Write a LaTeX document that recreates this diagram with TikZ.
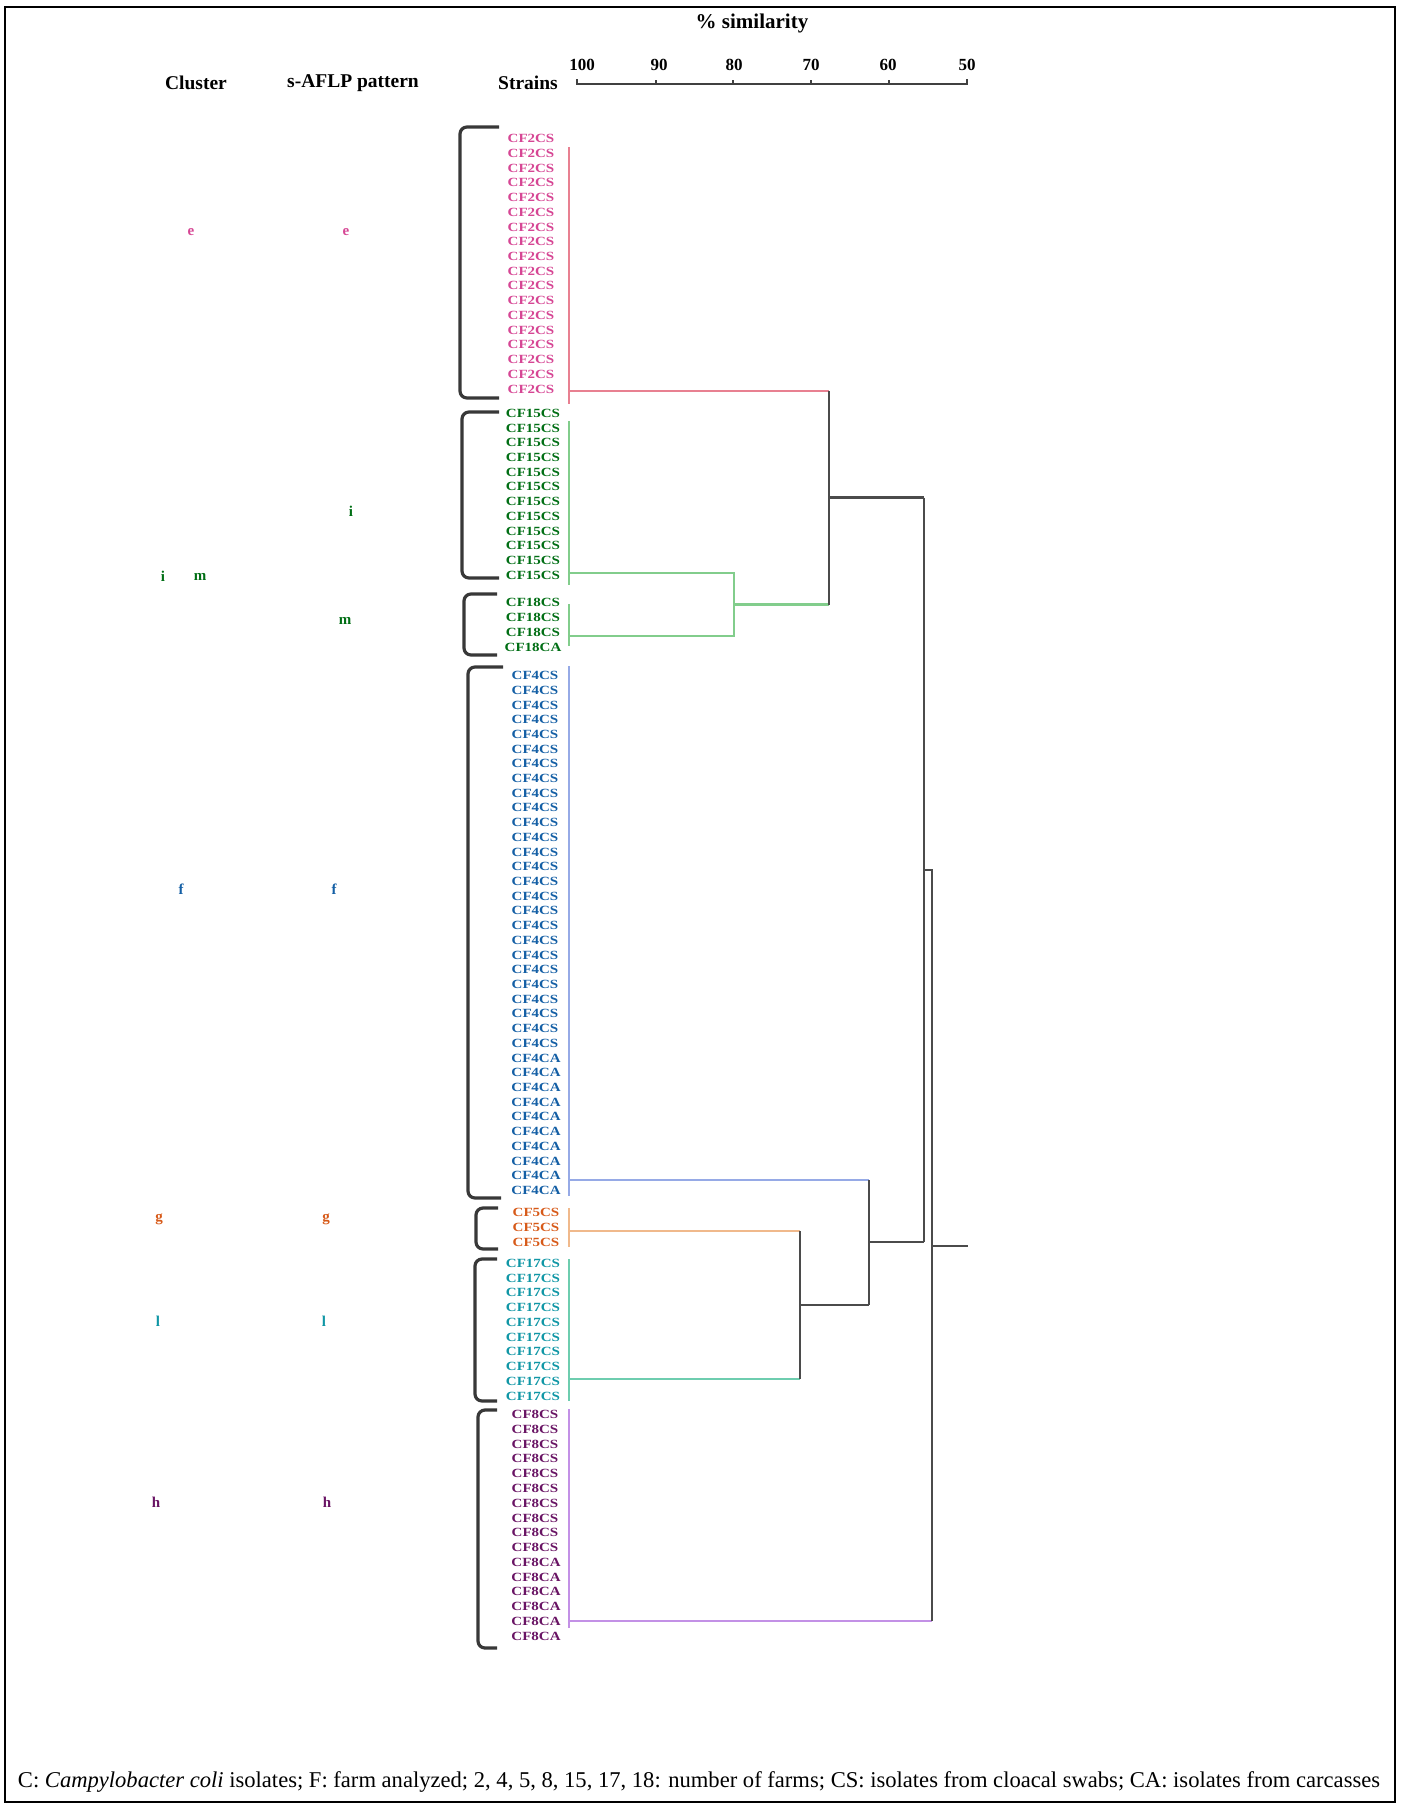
\documentclass[tikz,border=0pt]{standalone}
\usepackage{fontspec}
\usepackage{graphicx}
\setmainfont{Liberation Serif}
\definecolor{pinkT}{RGB}{214,70,148}
\definecolor{pinkL}{RGB}{232,128,145}
\definecolor{greenT}{RGB}{0,110,20}
\definecolor{greenL}{RGB}{130,205,140}
\definecolor{blueT}{RGB}{20,95,165}
\definecolor{blueL}{RGB}{150,170,230}
\definecolor{orangeT}{RGB}{215,90,25}
\definecolor{orangeL}{RGB}{240,185,140}
\definecolor{tealT}{RGB}{15,150,165}
\definecolor{tealL}{RGB}{110,205,175}
\definecolor{purpT}{RGB}{105,20,100}
\definecolor{purpL}{RGB}{195,145,230}
\definecolor{treeL}{RGB}{75,75,75}
\newcommand{\wide}[1]{\scalebox{1.2}[1]{#1}}
\begin{document}
\begin{tikzpicture}[x=1pt,y=-1pt,
  strain/.style={font=\fontsize{12.5}{13}\selectfont\bfseries, inner sep=0pt},
  letter/.style={font=\fontsize{15}{16}\selectfont\bfseries, inner sep=0pt},
  header/.style={font=\fontsize{19.5}{21}\selectfont\bfseries, inner sep=0pt},
  scalenum/.style={font=\fontsize{17}{18}\selectfont\bfseries, inner sep=0pt},
  bracketline/.style={draw=black!78, line width=3.2pt, rounded corners=7pt},
  treeline/.style={draw=treeL, line width=2.8pt},
  cline/.style={line width=2.3pt}]
\useasboundingbox (0,0) rectangle (1403,1810);
\draw[line width=2.5pt] (5,7) rectangle (1395,1802);

% headers
\node[font=\fontsize{21}{22}\selectfont\bfseries, inner sep=0pt] (ttl) at (752,23) {\% similarity};
\node[header] (hc) at (196,83) {Cluster};
\node[header] (hp) at (353,83) {s-AFLP pattern};
\node[header] (hs) at (528,83) {Strains};

% scale
\node[scalenum] (n100) at (582,65) {100};
\node[scalenum] (n90) at (659,65) {90};
\node[scalenum] (n80) at (734,65) {80};
\node[scalenum] (n70) at (811,65) {70};
\node[scalenum] (n60) at (888,65) {60};
\node[scalenum] (n50) at (967,65) {50};
\coordinate (ax0) at (577,84);
\coordinate (ax1) at (967,84);
\draw[line width=2pt, draw=black!75] (577,79) -- (ax0) -- (ax1) -- (967,79);
\foreach \t in {656,733,811,889} \draw[line width=1.6pt, draw=black!75] (\t,84) -- (\t,80);

% strain labels
\foreach \i in {0,...,17} \node[strain, text=pinkT] (e\i) at (531,{138.6+14.73*\i}) {\wide{CF2CS}};
\foreach \i in {0,...,11} \node[strain, text=greenT] (i\i) at (533,{413.4+14.7*\i}) {\wide{CF15CS}};
\foreach \i in {0,...,2} \node[strain, text=greenT] (m\i) at (533,{602.7+15*\i}) {\wide{CF18CS}};
\node[strain, text=greenT] (m3) at (533,647.8) {\wide{CF18CA}};
\foreach \i in {0,...,25} \node[strain, text=blueT] (f\i) at (535,{675.5+14.71*\i}) {\wide{CF4CS}};
\foreach \i in {26,...,35} \node[strain, text=blueT] (f\i) at (536,{675.5+14.71*\i}) {\wide{CF4CA}};
\foreach \i in {0,...,2} \node[strain, text=orangeT] (g\i) at (536,{1212.4+15*\i}) {\wide{CF5CS}};
\foreach \i in {0,...,9} \node[strain, text=tealT] (l\i) at (533,{1263.2+14.76*\i}) {\wide{CF17CS}};
\foreach \i in {0,...,9} \node[strain, text=purpT] (h\i) at (535,{1414.5+14.78*\i}) {\wide{CF8CS}};
\foreach \i in {10,...,15} \node[strain, text=purpT] (h\i) at (536,{1414.5+14.78*\i}) {\wide{CF8CA}};

% brackets
\draw[bracketline] (499,127) -- (460,127) -- (460,398) -- (499,398);
\draw[bracketline] (499,412) -- (462,412) -- (462,578) -- (499,578);
\draw[bracketline] (497,594) -- (464,594) -- (464,655) -- (497,655);
\draw[bracketline] (503,667) -- (468,667) -- (468,1198) -- (501,1198);
\draw[bracketline] (498,1208) -- (476,1208) -- (476,1249) -- (498,1249);
\draw[bracketline] (497,1259) -- (475,1259) -- (475,1401) -- (497,1401);
\draw[bracketline] (497,1410) -- (478,1410) -- (478,1648) -- (497,1648);

% cluster / pattern letters
\node[letter, text=pinkT] (ce) at (191,232) {e};
\node[letter, text=pinkT] (pe) at (346,232) {e};
\node[letter, text=greenT] (pi) at (351,511) {i};
\node[letter, text=greenT] (ci) at (163,576) {i};
\node[letter, text=greenT] (cm) at (200,577) {m};
\node[letter, text=greenT] (pm) at (345,621) {m};
\node[letter, text=blueT] (cf) at (181,889) {f};
\node[letter, text=blueT] (pf) at (334,889) {f};
\node[letter, text=orangeT] (cg) at (159,1219) {g};
\node[letter, text=orangeT] (pg) at (326,1219) {g};
\node[letter, text=tealT] (cl) at (158,1321) {l};
\node[letter, text=tealT] (pl) at (324,1321) {l};
\node[letter, text=purpT] (ch) at (156,1502) {h};
\node[letter, text=purpT] (ph) at (327,1502) {h};

% tree coordinates
\coordinate (le) at (569,391);
\coordinate (li) at (569,573);
\coordinate (lm) at (569,636);
\coordinate (lf) at (569,1180);
\coordinate (lg) at (569,1231);
\coordinate (ll) at (569,1379);
\coordinate (lh) at (569,1621);
\coordinate (j1) at (734,604.5);
\coordinate (j2) at (829,497.5);
\coordinate (j3) at (800,1305);
\coordinate (j4) at (869,1242);
\coordinate (j5) at (924,870);
\coordinate (j6) at (932,1246);
\coordinate (rt) at (968,1246);

% colored cluster lines
\draw[cline, pinkL] (569,147) -- (569,404);
\draw[cline, pinkL] (le) -- (le -| j2);
\draw[cline, greenL] (569,421) -- (569,585);
\draw[cline, greenL] (569,604) -- (569,646);
\draw[cline, greenL] (li) -- (li -| j1) -- (lm -| j1) -- (lm);
\draw[cline, greenL] (j1) -- (j1 -| j2);
\draw[cline, blueL] (569,666) -- (569,1196);
\draw[cline, blueL] (lf) -- (lf -| j4);
\draw[cline, orangeL] (569,1208) -- (569,1247);
\draw[cline, orangeL] (lg) -- (lg -| j3);
\draw[cline, tealL] (569,1259) -- (569,1401);
\draw[cline, tealL] (ll) -- (ll -| j3);
\draw[cline, purpL] (569,1409) -- (569,1628);
\draw[cline, purpL] (lh) -- (lh -| j6);

% black tree
\draw[treeline] (le -| j2) -- (j1 -| j2);
\draw[treeline] (j2) -- (j2 -| j5);
\draw[treeline] (j2 -| j5) -- (j4 -| j5);
\draw[treeline] (lg -| j3) -- (ll -| j3);
\draw[treeline] (j3) -- (j3 -| j4);
\draw[treeline] (lf -| j4) -- (j3 -| j4);
\draw[treeline] (j4) -- (j4 -| j5);
\draw[treeline] (j5) -- (j5 -| j6) -- (lh -| j6);
\draw[treeline] (j6) -- (rt);

% footnote
\node[inner sep=0pt] (foot) at (699,1782) {\resizebox{1362pt}{!}{\fontsize{22}{24}\selectfont C: \textit{Campylobacter coli} isolates; F: farm analyzed; 2, 4, 5, 8, 15, 17, 18: number of farms; CS: isolates from cloacal swabs; CA: isolates from carcasses}};
\end{tikzpicture}
\end{document}
